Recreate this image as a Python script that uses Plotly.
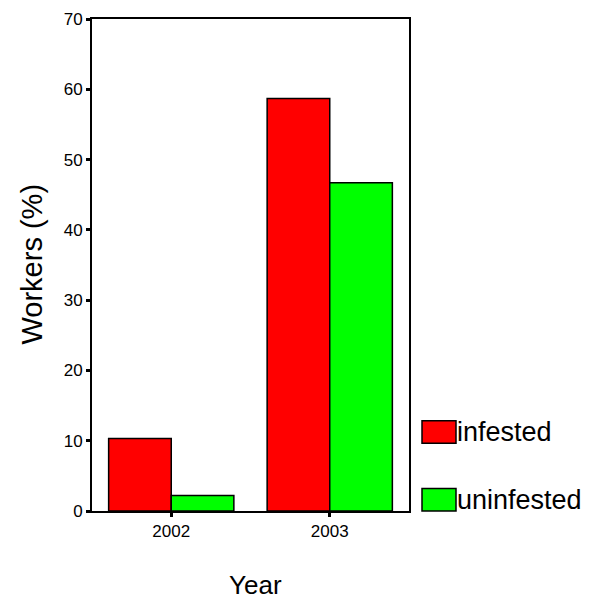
import plotly.graph_objects as go

years = ["2002", "2003"]
infested = [10.3, 58.7]
uninfested = [2.2, 46.7]
series_names = ["infested", "uninfested"]
colors = ["#ff0000", "#00ff00"]
y_ticks = [0, 10, 20, 30, 40, 50, 60, 70]

FONT = "Liberation Sans, Arial, sans-serif"

fig = go.Figure()
for name, vals, col in zip(series_names, [infested, uninfested], colors):
    fig.add_trace(go.Bar(
        x=[0, 1], y=vals, name=name,
        marker=dict(color=col, line=dict(color="black", width=1.5)),
        showlegend=False,
    ))

T, B = 10, 91
PH = 602 - T - B

fig.update_layout(
    width=589, height=602,
    margin=dict(l=92, r=180, t=T, b=B),
    paper_bgcolor="white", plot_bgcolor="white",
    barmode="group", bargap=0.21, bargroupgap=0,
    font=dict(family=FONT, color="black"),
    xaxis=dict(
        range=[-0.5, 1.5], tickvals=[0, 1], ticktext=years,
        showline=True, linecolor="black", linewidth=2, mirror=True,
        ticks="outside", ticklen=4, tickwidth=3, tickcolor="black",
        tickfont=dict(size=17, family=FONT), showgrid=False, zeroline=False,
    ),
    yaxis=dict(
        range=[0, 70], tickvals=y_ticks,
        showline=True, linecolor="black", linewidth=2, mirror=True,
        ticks="outside", ticklen=4, tickwidth=3, tickcolor="black",
        tickfont=dict(size=17, family=FONT), showgrid=False, zeroline=False,
    ),
)

def py(v):
    return (602 - B - v) / PH

# axis titles
fig.add_annotation(text="Year", xref="paper", yref="paper", x=(255 - 92) / 317,
                   y=py(586), showarrow=False, font=dict(size=26, family=FONT),
                   xanchor="center", yanchor="middle")
fig.add_annotation(text="Workers (%)", xref="paper", yref="paper", x=(32 - 92) / 317,
                   y=py(260), showarrow=False, textangle=-90,
                   font=dict(size=29, family=FONT), xanchor="center", yanchor="middle")

# legend built from shapes + text
legend_rows = [(419, 442), (488, 511)]
for (top, bot), name, col in zip(legend_rows, series_names, colors):
    fig.add_shape(type="rect", xref="paper", yref="paper",
                  x0=(422 - 92) / 317, x1=(456 - 92) / 317,
                  y0=py(bot), y1=py(top),
                  fillcolor=col, line=dict(color="black", width=1.5))
    fig.add_annotation(text=name, xref="paper", yref="paper",
                       x=(455 - 92) / 317, y=py((top + bot) / 2),
                       showarrow=False, xanchor="left", yanchor="middle",
                       font=dict(size=27, family=FONT))

fig.write_html("out.html", config={"displayModeBar": False},
               post_script="document.body.style.margin='0';document.body.style.overflow='hidden';")
